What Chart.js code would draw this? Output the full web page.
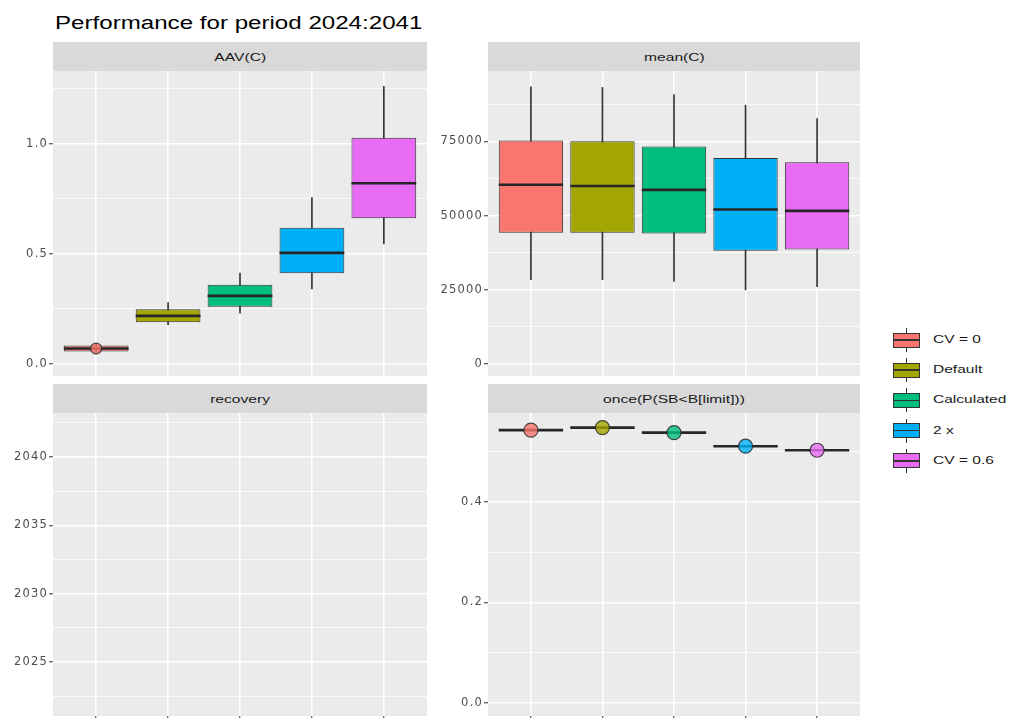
<!DOCTYPE html>
<html>
<head>
<meta charset="utf-8">
<title>Performance for period 2024:2041</title>
<script src="https://cdn.jsdelivr.net/npm/chart.js@4.4.1/dist/chart.umd.min.js"></script>
<style>
  html, body { margin: 0; padding: 0; background: #ffffff; overflow: hidden; }
  #page { position: relative; width: 1011px; height: 718px; }
  .abs { position: absolute; }
  .title {
    left: 55px; top: 13px; line-height: 18px; white-space: nowrap;
    font: 18px "Liberation Sans", Arial, sans-serif; color: #000000;
    transform: scaleX(1.34); transform-origin: 0 0;
  }
  .strip { background: #D9D9D9; display: flex; align-items: center; justify-content: center; }
  .strip span {
    font: 11px "Liberation Sans", Arial, sans-serif; color: #1A1A1A;
    white-space: nowrap; transform: scaleX(1.42);
  }
  .key { width: 34px; height: 30px; }
  .key .whisker { position: absolute; left: 16.5px; top: 3px; width: 1px; height: 24px; background: #333333; }
  .key .box { position: absolute; left: 3.5px; top: 7.5px; width: 27px; height: 15px; box-sizing: border-box; border: 1px solid #333333; }
  .key .median { position: absolute; left: 3.5px; top: 14.25px; width: 27px; height: 1.5px; background: #333333; }
  .keylabel {
    left: 933px; line-height: 14px; white-space: nowrap;
    font: 11.5px "Liberation Sans", Arial, sans-serif; color: #1A1A1A;
    transform: scaleX(1.35); transform-origin: 0 50%;
  }
  canvas { position: absolute; }
</style>
</head>
<body>
<div id="page">
  <div class="abs title">Performance for period 2024:2041</div>

  <div class="abs strip" style="left:53px;top:42px;width:374px;height:29px"><span>AAV(C)</span></div>
  <div class="abs strip" style="left:488px;top:42px;width:372px;height:29px"><span>mean(C)</span></div>
  <div class="abs strip" style="left:53px;top:384px;width:374px;height:29px"><span>recovery</span></div>
  <div class="abs strip" style="left:488px;top:384px;width:372px;height:29px"><span>once(P(SB&lt;B[limit]))</span></div>

  <canvas id="aav"></canvas>
  <canvas id="meanC"></canvas>
  <canvas id="recovery"></canvas>
  <canvas id="once"></canvas>

  <div id="legend"></div>
</div>

<script>
// Management procedures shown in every panel, and their fill colours
const categories = ['CV = 0', 'Default', 'Calculated', '2 x', 'CV = 0.6'];
const fillColours = ['#F8766D', '#A3A500', '#00BF7D', '#00B0F6', '#E76BF3'];

// AAV(C): whisker ends, quartiles and medians
const aavLower  = [0.050, 0.178, 0.230, 0.341, 0.545];
const aavQ1     = [0.057, 0.189, 0.260, 0.412, 0.661];
const aavMedian = [0.070, 0.218, 0.309, 0.504, 0.820];
const aavQ3     = [0.084, 0.248, 0.359, 0.618, 1.026];
const aavUpper  = [0.090, 0.279, 0.412, 0.755, 1.260];
const aavPoints = [0.070, null, null, null, null];

// mean(C)
const meanLower  = [28400, 28400, 27800, 25000, 26100];
const meanQ1     = [44200, 44200, 44000, 38200, 38600];
const meanMedian = [60400, 60000, 58700, 52100, 51600];
const meanQ3     = [75300, 75100, 73300, 69400, 68000];
const meanUpper  = [93400, 93200, 90800, 87200, 82700];

// recovery has no values for this period
const recoveryMedian = [];

// once(P(SB<B[limit])): a single probability per procedure
const onceValues = [0.543, 0.548, 0.538, 0.511, 0.503];

// y-axis breaks and labels
const aavTicks = [0, 0.5, 1.0];           const aavTickLabels = ['0.0', '0.5', '1.0'];
const aavMinor = [0.25, 0.75, 1.25];
const meanTicks = [0, 25000, 50000, 75000]; const meanTickLabels = ['0', '25000', '50000', '75000'];
const meanMinor = [12500, 37500, 62500, 87500];
const recTicks = [2025, 2030, 2035, 2040];  const recTickLabels = ['2025', '2030', '2035', '2040'];
const recMinor = [2022.5, 2027.5, 2032.5, 2037.5, 2042.5];
const onceTicks = [0, 0.2, 0.4];           const onceTickLabels = ['0.0', '0.2', '0.4'];
const onceMinor = [0.1, 0.3, 0.5];

const AXIS_W = 50;      // width reserved for the y axis
const PAD = 10;

function withAlpha(hex, a) {
  const n = parseInt(hex.slice(1), 16);
  return `rgba(${(n >> 16) & 255},${(n >> 8) & 255},${n & 255},${a})`;
}

// grey panel background, and slightly wider spacing for tick text
const panelBg = {
  id: 'panelBg',
  beforeDraw(chart) {
    const { ctx, chartArea: a } = chart;
    ctx.save();
    ctx.fillStyle = '#EBEBEB';
    ctx.fillRect(a.left, a.top, a.right - a.left, a.bottom - a.top);
    ctx.restore();
    ctx.letterSpacing = '1.2px';
  }
};

function halfBoxWidth(c) {
  const x = c.chart.scales.x;
  return Math.abs(x.getPixelForValue(0.45) - x.getPixelForValue(0));
}

function yScale(min, max, majors, labels, minors) {
  const all = majors.concat(minors).sort((a, b) => a - b);
  const isMajor = v => majors.indexOf(v) >= 0;
  return {
    type: 'linear', position: 'left', min, max,
    afterBuildTicks: sc => { sc.ticks = all.map(v => ({ value: v })); },
    afterFit: sc => { sc.width = AXIS_W; },
    border: { display: false },
    grid: {
      color: '#FFFFFF',
      lineWidth: c => (c.tick && isMajor(c.tick.value)) ? 1.5 : 0.75,
      drawTicks: true, tickLength: 4, tickWidth: 1,
      tickColor: c => (c.tick && isMajor(c.tick.value)) ? '#333333' : 'rgba(0,0,0,0)'
    },
    ticks: {
      autoSkip: false, padding: 1, color: '#4D4D4D',
      font: { family: '"DejaVu Sans", "Liberation Sans", sans-serif', size: 11.5 },
      callback: v => { const k = majors.indexOf(v); return k < 0 ? '' : labels[k]; }
    }
  };
}

function xScale(bottomRow) {
  const xs = categories.map((_, i) => i);
  return {
    type: 'linear', min: -0.6, max: 4.6, offset: false,
    afterBuildTicks: sc => { sc.ticks = xs.map(v => ({ value: v })); },
    afterFit: sc => { sc.height = bottomRow ? 5 : 0; },
    border: { display: false },
    grid: {
      offset: false, color: '#FFFFFF', lineWidth: 1.5,
      drawTicks: bottomRow, tickLength: 4, tickWidth: 1, tickColor: '#333333'
    },
    ticks: { display: false }
  };
}

function boxPanel(id, rect, s, y, bottomRow, pointRadius) {
  const cv = document.getElementById(id);
  cv.width = rect.w + AXIS_W + PAD;
  cv.height = rect.h + 2 * PAD;
  cv.style.left = (rect.l - AXIS_W) + 'px';
  cv.style.top = (rect.t - PAD) + 'px';

  const datasets = [];
  if (s.median.length) {
    const idx = s.median.map((_, i) => i);
    datasets.push({
      type: 'bar', order: 4, grouped: false, barThickness: 1,
      data: idx.map(i => ({ x: i, y: [s.lower[i], s.upper[i]] })),
      backgroundColor: '#333333', borderWidth: 0
    });
    datasets.push({
      type: 'bar', order: 3, grouped: false, barPercentage: 0.9, categoryPercentage: 1,
      data: idx.map(i => ({ x: i, y: [s.q1[i], s.q3[i]] })),
      backgroundColor: fillColours, borderColor: '#333333', borderWidth: 1, borderSkipped: false
    });
    datasets.push({
      type: 'scatter', order: 2,
      data: idx.map(i => ({ x: i, y: s.median[i] })),
      pointStyle: 'line', pointRadius: halfBoxWidth,
      pointBorderColor: '#262626', pointBorderWidth: 2.6
    });
    if (s.points) {
      datasets.push({
        type: 'scatter', order: 1,
        data: idx.map(i => ({ x: i, y: s.points[i] })),
        pointStyle: 'circle', pointRadius,
        pointBackgroundColor: fillColours.map(c => withAlpha(c, 0.8)),
        pointBorderColor: 'rgba(40,40,40,0.85)', pointBorderWidth: 1.2
      });
    }
  }

  return new Chart(cv, {
    type: 'bar',
    data: { datasets },
    plugins: [panelBg],
    options: {
      responsive: false, animation: false, events: [],
      devicePixelRatio: 1,
      layout: { padding: { top: PAD, right: PAD, bottom: PAD - 5, left: 0 } },
      plugins: { legend: { display: false }, tooltip: { enabled: false }, title: { display: false } },
      scales: { x: xScale(bottomRow), y }
    }
  });
}

boxPanel('aav', { l: 53, t: 71, w: 374, h: 303 },
  { lower: aavLower, q1: aavQ1, median: aavMedian, q3: aavQ3, upper: aavUpper, points: aavPoints },
  yScale(-0.055, 1.329, aavTicks, aavTickLabels, aavMinor), false, 5.5);

boxPanel('meanC', { l: 488, t: 71, w: 372, h: 303 },
  { lower: meanLower, q1: meanQ1, median: meanMedian, q3: meanQ3, upper: meanUpper },
  yScale(-4070, 98750, meanTicks, meanTickLabels, meanMinor), false, 5.5);

boxPanel('recovery', { l: 53, t: 413, w: 374, h: 303 },
  { lower: [], q1: [], median: recoveryMedian, q3: [], upper: [] },
  yScale(2021.05, 2043.22, recTicks, recTickLabels, recMinor), true, 5.5);

boxPanel('once', { l: 488, t: 413, w: 372, h: 303 },
  { lower: onceValues, q1: onceValues, median: onceValues, q3: onceValues, upper: onceValues, points: onceValues },
  yScale(-0.0259, 0.5771, onceTicks, onceTickLabels, onceMinor), true, 7);

// legend for the procedures
const legend = document.getElementById('legend');
categories.forEach((name, i) => {
  const cy = 340 + i * 30.2;
  const key = document.createElement('div');
  key.className = 'abs key';
  key.style.left = '889.5px';
  key.style.top = (cy - 15) + 'px';
  key.innerHTML = '<div class="whisker"></div><div class="box" style="background:' +
    fillColours[i] + '"></div><div class="median"></div>';
  legend.appendChild(key);
  const lab = document.createElement('div');
  lab.className = 'abs keylabel';
  lab.style.top = (cy - 7) + 'px';
  lab.textContent = name;
  legend.appendChild(lab);
});
</script>
</body>
</html>
